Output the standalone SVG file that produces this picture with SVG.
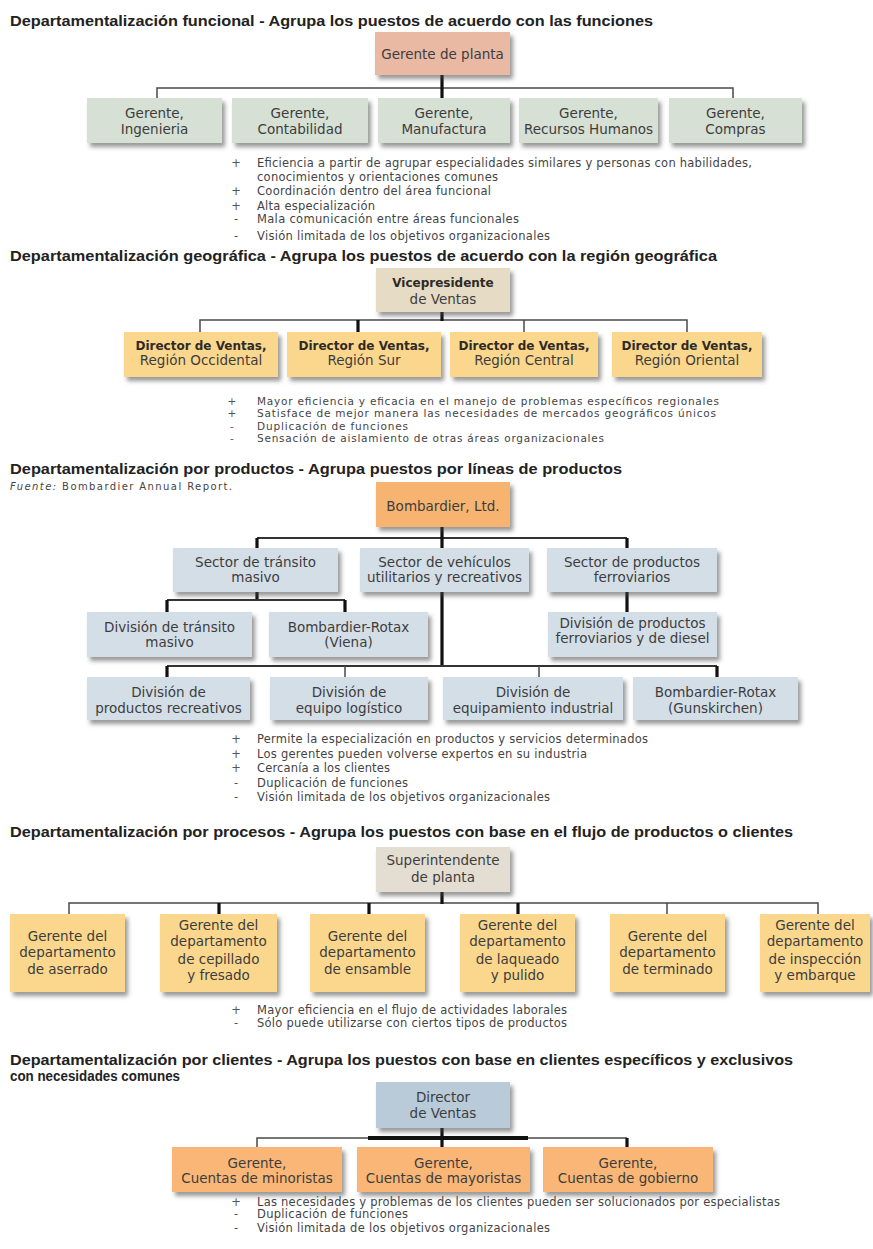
<svg xmlns="http://www.w3.org/2000/svg" width="873" height="1249" viewBox="0 0 873 1249">
<defs>
<filter id="sh" x="-10%" y="-15%" width="125%" height="145%">
<feDropShadow dx="3" dy="4" stdDeviation="2" flood-color="#444" flood-opacity="0.55"/>
</filter>
<style>
.ttl{font-family:"Liberation Sans",Arial,sans-serif;font-weight:bold;font-size:15px;fill:#222}
.src{font-family:"DejaVu Sans",sans-serif;font-size:10px;fill:#444}
.bl{font-family:"DejaVu Sans",sans-serif;font-size:11.5px;fill:#444}
.mk{font-family:"DejaVu Sans",sans-serif;font-size:11.5px;fill:#555;text-anchor:middle}
.sm{font-size:10.5px}
.nt{font-family:"DejaVu Sans",sans-serif;font-size:13.5px;fill:#3d3d3d;text-anchor:middle}
.nb{font-weight:bold;font-size:12px;fill:#2e2a24}
.box{filter:url(#sh)}
.ln{stroke:#4a4a4a;stroke-width:1.5;fill:none}
.lm{stroke:#333;stroke-width:2;fill:none}
.lk{stroke:#111;stroke-width:3.2;fill:none}
.fg{fill:#d6e0d4}.fs{fill:#e9b9a3}.ft{fill:#e6dcc5}.fy{fill:#fbd78d}.fo{fill:#f7b36f}.fb{fill:#d4dee7}.fe{fill:#e4ded2}.fd{fill:#b9cad9}.fc{fill:#f9b677}
</style>
</defs>
<rect width="873" height="1249" fill="#fff"/>

<!-- ===== Section 1: funcional ===== -->
<text class="ttl" x="10" y="26" textLength="643" lengthAdjust="spacingAndGlyphs">Departamentalización funcional - Agrupa los puestos de acuerdo con las funciones</text>
<g id="connectors1">
<path class="ln" d="M157 98V88H733V98"/>
<path class="lk" d="M442 75V98"/>
</g>
<g id="f_gerente_planta"><rect class="box fs" x="375" y="32" width="135" height="43"/><text class="nt" x="442.5" y="59">Gerente de planta</text></g>
<g id="f_ingenieria"><rect class="box fg" x="87" y="98" width="135" height="45"/><text class="nt" x="154.5" y="118">Gerente,</text><text class="nt" x="154.5" y="134">Ingenieria</text></g>
<g id="f_contabilidad"><rect class="box fg" x="232" y="98" width="136" height="45"/><text class="nt" x="300" y="118">Gerente,</text><text class="nt" x="300" y="134">Contabilidad</text></g>
<g id="f_manufactura"><rect class="box fg" x="378" y="98" width="132" height="45"/><text class="nt" x="444" y="118">Gerente,</text><text class="nt" x="444" y="134">Manufactura</text></g>
<g id="f_rrhh"><rect class="box fg" x="519" y="98" width="139" height="45"/><text class="nt" x="588.5" y="118">Gerente,</text><text class="nt" x="588.5" y="134">Recursos Humanos</text></g>
<g id="f_compras"><rect class="box fg" x="669" y="98" width="133" height="45"/><text class="nt" x="735.5" y="118">Gerente,</text><text class="nt" x="735.5" y="134">Compras</text></g>
<g id="notes1">
<text class="mk" x="236" y="167">+</text><text class="bl" x="257" y="167" textLength="495">Eficiencia a partir de agrupar especialidades similares y personas con habilidades,</text>
<text class="bl" x="257" y="181" textLength="241">conocimientos y orientaciones comunes</text>
<text class="mk" x="236" y="195">+</text><text class="bl" x="257" y="195" textLength="234">Coordinación dentro del área funcional</text>
<text class="mk" x="236" y="210">+</text><text class="bl" x="257" y="210" textLength="118">Alta especialización</text>
<text class="mk" x="236" y="223">-</text><text class="bl" x="257" y="223" textLength="262">Mala comunicación entre áreas funcionales</text>
<text class="mk" x="236" y="240">-</text><text class="bl" x="257" y="240" textLength="293">Visión limitada de los objetivos organizacionales</text>
</g>

<!-- ===== Section 2: geografica ===== -->
<text class="ttl" x="10" y="261" textLength="707" lengthAdjust="spacingAndGlyphs">Departamentalización geográfica - Agrupa los puestos de acuerdo con la región geográfica</text>
<g id="connectors2">
<path class="ln" d="M200 332V320H687V332"/>
<path class="ln" d="M524 320V332"/>
<path class="lk" d="M358 320V332"/>
<path class="lk" d="M442 312V321"/>
</g>
<g id="g_vicepresidente"><rect class="box ft" x="376" y="268" width="134" height="44"/><text class="nt nb" x="443" y="287">Vicepresidente</text><text class="nt" x="443" y="304">de Ventas</text></g>
<g id="g_occidental"><rect class="box fy" x="124" y="332" width="154" height="45"/><text class="nt nb" x="201" y="350">Director de Ventas,</text><text class="nt" x="201" y="365">Región Occidental</text></g>
<g id="g_sur"><rect class="box fy" x="287" y="332" width="154" height="45"/><text class="nt nb" x="364" y="350">Director de Ventas,</text><text class="nt" x="364" y="365">Región Sur</text></g>
<g id="g_central"><rect class="box fy" x="450" y="332" width="148" height="45"/><text class="nt nb" x="524" y="350">Director de Ventas,</text><text class="nt" x="524" y="365">Región Central</text></g>
<g id="g_oriental"><rect class="box fy" x="612" y="332" width="150" height="45"/><text class="nt nb" x="687" y="350">Director de Ventas,</text><text class="nt" x="687" y="365">Región Oriental</text></g>
<g id="notes2">
<text class="mk sm" x="232" y="405">+</text><text class="bl sm" x="257" y="405" textLength="462">Mayor eficiencia y eficacia en el manejo de problemas específicos regionales</text>
<text class="mk sm" x="232" y="417">+</text><text class="bl sm" x="257" y="417" textLength="459">Satisface de mejor manera las necesidades de mercados geográficos únicos</text>
<text class="mk sm" x="232" y="430">-</text><text class="bl sm" x="257" y="430" textLength="151">Duplicación de funciones</text>
<text class="mk sm" x="232" y="442">-</text><text class="bl sm" x="257" y="442" textLength="347">Sensación de aislamiento de otras áreas organizacionales</text>
</g>

<!-- ===== Section 3: productos ===== -->
<text class="ttl" x="10" y="474" textLength="612" lengthAdjust="spacingAndGlyphs">Departamentalización por productos - Agrupa puestos por líneas de productos</text>
<text class="src" x="10" y="490" textLength="222"><tspan font-style="italic">Fuente:</tspan> Bombardier Annual Report.</text>
<g id="connectors3">
<path class="lm" d="M257 538H627"/>
<path class="lk" d="M442 527V548M257 538V548M627 538V548"/>
<path class="lk" d="M257 592V601"/>
<path class="lm" d="M167 600H345"/>
<path class="lk" d="M167 600V612M345 600V612"/>
<path class="lk" d="M627 592V612"/>
<path class="lk" d="M442 592V667"/>
<path class="lm" d="M167 666H717"/>
<path class="lk" d="M167 666V677M717 666V677"/>
<path class="ln" d="M345 666V677M539 666V677"/>
</g>
<g id="p_bombardier"><rect class="box fo" x="376" y="482" width="134" height="45"/><text class="nt" x="443" y="511">Bombardier, Ltd.</text></g>
<g id="p_sector_transito"><rect class="box fb" x="173" y="548" width="165" height="44"/><text class="nt" x="255.5" y="567">Sector de tránsito</text><text class="nt" x="255.5" y="582">masivo</text></g>
<g id="p_sector_vehiculos"><rect class="box fb" x="360" y="548" width="169" height="44"/><text class="nt" x="444.5" y="567">Sector de vehículos</text><text class="nt" x="444.5" y="582">utilitarios y recreativos</text></g>
<g id="p_sector_ferroviarios"><rect class="box fb" x="547" y="548" width="170" height="44"/><text class="nt" x="632" y="567">Sector de productos</text><text class="nt" x="632" y="582">ferroviarios</text></g>
<g id="p_div_transito"><rect class="box fb" x="87" y="612" width="165" height="45"/><text class="nt" x="169.5" y="632">División de tránsito</text><text class="nt" x="169.5" y="647">masivo</text></g>
<g id="p_rotax_viena"><rect class="box fb" x="269" y="612" width="159" height="45"/><text class="nt" x="348.5" y="632">Bombardier-Rotax</text><text class="nt" x="348.5" y="647">(Viena)</text></g>
<g id="p_div_ferroviarios"><rect class="box fb" x="548" y="612" width="169" height="45"/><text class="nt" x="632.5" y="628">División de productos</text><text class="nt" x="632.5" y="643">ferroviarios y de diesel</text></g>
<g id="p_div_recreativos"><rect class="box fb" x="87" y="677" width="163" height="43"/><text class="nt" x="168.5" y="697">División de</text><text class="nt" x="168.5" y="713">productos recreativos</text></g>
<g id="p_div_logistico"><rect class="box fb" x="270" y="677" width="158" height="43"/><text class="nt" x="349" y="697">División de</text><text class="nt" x="349" y="713">equipo logístico</text></g>
<g id="p_div_industrial"><rect class="box fb" x="443" y="677" width="180" height="43"/><text class="nt" x="533" y="697">División de</text><text class="nt" x="533" y="713">equipamiento industrial</text></g>
<g id="p_rotax_gunskirchen"><rect class="box fb" x="633" y="677" width="165" height="43"/><text class="nt" x="715.5" y="697">Bombardier-Rotax</text><text class="nt" x="715.5" y="713">(Gunskirchen)</text></g>
<g id="notes3">
<text class="mk" x="236" y="743">+</text><text class="bl" x="257" y="743" textLength="391">Permite la especialización en productos y servicios determinados</text>
<text class="mk" x="236" y="758">+</text><text class="bl" x="257" y="758" textLength="330">Los gerentes pueden volverse expertos en su industria</text>
<text class="mk" x="236" y="772">+</text><text class="bl" x="257" y="772" textLength="133">Cercanía a los clientes</text>
<text class="mk" x="236" y="787">-</text><text class="bl" x="257" y="787" textLength="151">Duplicación de funciones</text>
<text class="mk" x="236" y="801">-</text><text class="bl" x="257" y="801" textLength="293">Visión limitada de los objetivos organizacionales</text>
</g>

<!-- ===== Section 4: procesos ===== -->
<text class="ttl" x="10" y="837" textLength="783" lengthAdjust="spacingAndGlyphs">Departamentalización por procesos - Agrupa los puestos con base en el flujo de productos o clientes</text>
<g id="connectors4">
<path class="ln" d="M69 914V903H818V914"/>
<path class="ln" d="M667 903V914"/>
<path class="lk" d="M219 903V914M369 903V914M518 903V914"/>
<path class="lk" d="M442 892V904"/>
</g>
<g id="pr_superintendente"><rect class="box fe" x="376" y="847" width="134" height="45"/><text class="nt" x="443" y="865">Superintendente</text><text class="nt" x="443" y="882">de planta</text></g>
<g id="pr_aserrado"><rect class="box fy" x="10" y="914" width="115" height="78"/><text class="nt" x="67.5" y="941">Gerente del</text><text class="nt" x="67.5" y="957">departamento</text><text class="nt" x="67.5" y="974">de aserrado</text></g>
<g id="pr_cepillado"><rect class="box fy" x="160" y="914" width="117" height="78"/><text class="nt" x="218.5" y="930">Gerente del</text><text class="nt" x="218.5" y="946">departamento</text><text class="nt" x="218.5" y="964">de cepillado</text><text class="nt" x="218.5" y="980">y fresado</text></g>
<g id="pr_ensamble"><rect class="box fy" x="310" y="914" width="115" height="78"/><text class="nt" x="367.5" y="941">Gerente del</text><text class="nt" x="367.5" y="957">departamento</text><text class="nt" x="367.5" y="974">de ensamble</text></g>
<g id="pr_laqueado"><rect class="box fy" x="460" y="914" width="115" height="78"/><text class="nt" x="517.5" y="930">Gerente del</text><text class="nt" x="517.5" y="946">departamento</text><text class="nt" x="517.5" y="964">de laqueado</text><text class="nt" x="517.5" y="980">y pulido</text></g>
<g id="pr_terminado"><rect class="box fy" x="610" y="914" width="115" height="78"/><text class="nt" x="667.5" y="941">Gerente del</text><text class="nt" x="667.5" y="957">departamento</text><text class="nt" x="667.5" y="974">de terminado</text></g>
<g id="pr_inspeccion"><rect class="box fy" x="760" y="914" width="110" height="78"/><text class="nt" x="815" y="930">Gerente del</text><text class="nt" x="815" y="946">departamento</text><text class="nt" x="815" y="964">de inspección</text><text class="nt" x="815" y="980">y embarque</text></g>
<g id="notes4">
<text class="mk" x="236" y="1014">+</text><text class="bl" x="257" y="1014" textLength="310">Mayor eficiencia en el flujo de actividades laborales</text>
<text class="mk" x="236" y="1027">-</text><text class="bl" x="257" y="1027" textLength="310">Sólo puede utilizarse con ciertos tipos de productos</text>
</g>

<!-- ===== Section 5: clientes ===== -->
<text class="ttl" x="10" y="1065" font-size="14" textLength="783" lengthAdjust="spacingAndGlyphs">Departamentalización por clientes - Agrupa los puestos con base en clientes específicos y exclusivos</text>
<text class="ttl" x="10" y="1081" font-size="14" textLength="170" lengthAdjust="spacingAndGlyphs">con necesidades comunes</text>
<g id="connectors5">
<path class="ln" d="M257 1147V1138H627"/>
<path class="lk" d="M627 1138V1147"/>
<path d="M368 1138H528" stroke="#111" stroke-width="4" fill="none"/>
<path class="lk" d="M442 1128V1147"/>
</g>
<g id="c_director"><rect class="box fd" x="376" y="1082" width="134" height="46"/><text class="nt" x="443" y="1102">Director</text><text class="nt" x="443" y="1118">de Ventas</text></g>
<g id="c_minoristas"><rect class="box fc" x="172" y="1147" width="170" height="45"/><text class="nt" x="257" y="1168">Gerente,</text><text class="nt" x="257" y="1183">Cuentas de minoristas</text></g>
<g id="c_mayoristas"><rect class="box fc" x="357" y="1147" width="173" height="45"/><text class="nt" x="443.5" y="1168">Gerente,</text><text class="nt" x="443.5" y="1183">Cuentas de mayoristas</text></g>
<g id="c_gobierno"><rect class="box fc" x="543" y="1147" width="170" height="45"/><text class="nt" x="628" y="1168">Gerente,</text><text class="nt" x="628" y="1183">Cuentas de gobierno</text></g>
<g id="notes5">
<text class="mk" x="236" y="1206">+</text><text class="bl" x="257" y="1206" textLength="523">Las necesidades y problemas de los clientes pueden ser solucionados por especialistas</text>
<text class="mk" x="236" y="1218">-</text><text class="bl" x="257" y="1218" textLength="151">Duplicación de funciones</text>
<text class="mk" x="236" y="1232">-</text><text class="bl" x="257" y="1232" textLength="293">Visión limitada de los objetivos organizacionales</text>
</g>
</svg>
